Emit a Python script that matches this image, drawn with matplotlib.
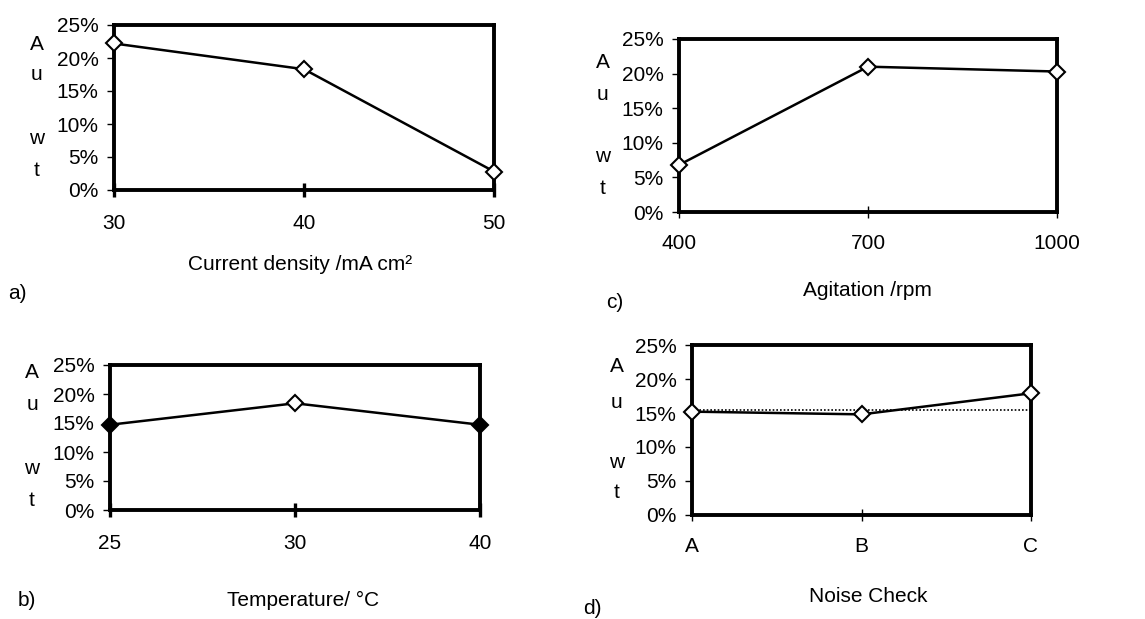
import matplotlib
matplotlib.use("Agg")
import matplotlib.pyplot as plt

plt.rcParams['font.family'] = ['Liberation Sans', 'DejaVu Sans']

# ---- data ----
a_labels = ["30", "40", "50"]
a_values = [22.2, 18.3, 2.8]
b_labels = ["25", "30", "40"]
b_values = [14.7, 18.4, 14.7]
c_labels = ["400", "700", "1000"]
c_values = [6.8, 21.0, 20.3]
d_labels = ["A", "B", "C"]
d_values = [15.2, 14.8, 17.9]
d_reference = 15.4
y_ticks = [0, 5, 10, 15, 20, 25]
y_ticklabels = ["0%", "5%", "10%", "15%", "20%", "25%"]

W, H = 1145, 619
fig = plt.figure(figsize=(W / 100, H / 100), dpi=100)
FS = 15


def px_axes(left, top, right, bottom):
    return fig.add_axes([left / W, 1 - bottom / H, (right - left) / W, (bottom - top) / H])


def ftext(x, y, s, **kw):
    fig.text(x / W, 1 - y / H, s, fontsize=FS, **kw)


def panel(box, labels, values, xlabel, xlab_pos, tag, tag_pos, letter_x, letter_ys,
          face=None, mid_tick_thick=False):
    ax = px_axes(*box)
    xs = list(range(len(values)))
    faces = face if face is not None else ["white"] * len(values)
    ax.plot(xs, values, color="black", lw=1.8, zorder=3, clip_on=False)
    for x, v, fc in zip(xs, values, faces):
        ax.plot([x], [v], marker="D", ms=8.5, mfc=fc, mec="black", mew=1.5,
                zorder=4, clip_on=False)
    ax.set_xlim(0, len(values) - 1)
    ax.set_ylim(0, 25)
    ax.set_yticks(y_ticks)
    ax.set_yticklabels(y_ticklabels, fontsize=FS)
    ax.set_xticks(xs)
    ax.set_xticklabels(labels, fontsize=FS)
    for s in ax.spines.values():
        s.set_linewidth(2.8)
    ax.tick_params(axis="y", direction="out", length=5, width=1, pad=6)
    ax.tick_params(axis="x", direction="inout", length=10 if mid_tick_thick else 8,
                   width=2.4 if mid_tick_thick else 1, pad=12)
    ftext(xlab_pos[0], xlab_pos[1], xlabel, ha="center", va="center")
    ftext(tag_pos[0], tag_pos[1], tag, ha="center", va="center")
    for ch, y in zip(["A", "u", "w", "t"], letter_ys):
        ftext(letter_x, y, ch, ha="center", va="center")
    return ax


panel((114, 25, 494, 190), a_labels, a_values, "Current density /mA cm\u00b2",
      (300, 265), "a)", (17, 293), 37, (44, 75, 138, 170), mid_tick_thick=True)

panel((110, 365, 480, 510), b_labels, b_values, "Temperature/ \u00b0C",
      (303, 600), "b)", (27, 600), 32, (373, 405, 468, 500),
      face=["black", "white", "black"], mid_tick_thick=True)

panel((679, 39, 1057, 212), c_labels, c_values, "Agitation /rpm",
      (867, 290), "c)", (615, 303), 603, (63, 94, 157, 188))

axd = panel((692, 345, 1031, 515), d_labels, d_values, "Noise Check",
            (868, 597), "d)", (592, 608), 617, (367, 402, 462, 493))
axd.hlines(d_reference, 0, 2, colors="black", linestyles=(0, (1, 1.2)), lw=1.2, zorder=2)

fig.savefig("out.png", dpi=100)
